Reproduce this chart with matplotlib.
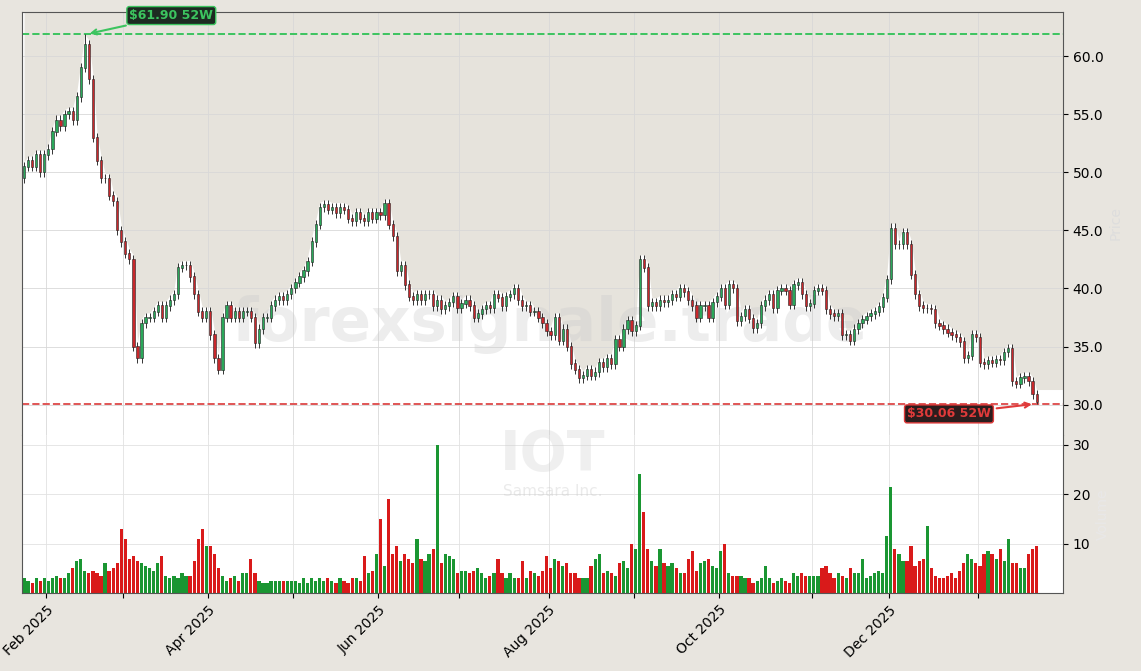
import matplotlib
matplotlib.use("Agg")
import matplotlib.pyplot as plt
import numpy as np
import pandas as pd

# daily closes, first open given separately
first_open = 49.5
closes = [
    50.5, 51, 50.5, 51.5, 50, 51.5, 52, 53.5, 54.5, 54,
    55, 55.2, 54.5, 56.5, 59, 61, 58, 53, 51, 49.5,
    49.5, 48, 47.5, 45, 44, 43, 42.5, 35, 34, 37,
    37.5, 37.5, 38, 38.5, 37.5, 38.5, 39, 39.5, 41.8, 42,
    42, 41, 39.5, 38, 37.5, 38, 36, 34, 33, 37.5,
    38.5, 37.5, 38, 37.5, 38, 38, 37.5, 35.3, 36.5, 37.5,
    37.5, 38.5, 39, 39.3, 39, 39.5, 40, 40.5, 41, 41.5,
    42.3, 44, 45.5, 47, 47.2, 46.8, 47, 46.5, 47, 46.8,
    46, 45.8, 46.5, 46, 45.8, 46.5, 46, 46.5, 46.3, 47.3,
    45.5, 44.5, 41.5, 42, 40.3, 39.3, 39, 39.5, 39, 39.5,
    39.5, 38.5, 39, 38.2, 38.5, 38.8, 39.3, 38.3, 38.7, 39,
    38.5, 37.5, 37.8, 38.2, 38.5, 38.3, 39.5, 39.2, 38.5, 39.3,
    39.5, 40, 39, 38.5, 38.5, 38, 38, 37.5, 37, 36.3,
    36, 37.5, 35.5, 36.5, 35, 33.5, 33, 32.3, 32.5, 33,
    32.5, 32.8, 33.6, 33.2, 34, 33.5, 35.6, 35, 36.5, 37.2,
    36.3, 36.8, 42.5, 41.8, 38.5, 38.8, 38.5, 39, 38.8, 39,
    39.5, 39.3, 40, 39.7, 39, 38.5, 37.5, 38.5, 38.5, 37.5,
    38.8, 39.3, 40, 38.6, 40.3, 40, 37.2, 37.6, 38.2, 37.4,
    36.6, 37, 38.5, 39, 39.5, 38.3, 39.8, 40, 39.8, 38.6,
    40.3, 40.5, 39.5, 38.5, 38.7, 39.8, 40, 39.8, 38.2, 37.8,
    37.6, 37.8, 36, 36, 35.5, 36.5, 37, 37.3, 37.6, 37.8,
    38, 38.4, 39.2, 40.8, 45.2, 43.8, 43.8, 44.8, 43.8, 41.2,
    39.5, 38.5, 38.3, 38.3, 38.2, 37, 36.8, 36.5, 36.2, 36,
    35.8, 35.4, 34, 34.2, 36, 35.8, 33.6, 33.5, 33.8, 33.6,
    33.9, 33.8, 34.5, 34.8, 32, 31.8, 32.3, 32.4, 32, 30.9, 30.2,
]
# volume in millions
volumes = [
    3, 2.5, 2, 3, 2.5, 3, 2.5, 3, 3.5, 3,
    3, 4, 5, 6.5, 7, 4.5, 4, 4.5, 4, 3.5,
    6, 4.5, 5, 6, 13, 11, 7, 7.5, 6.5, 6,
    5.5, 5, 4.5, 6, 7.5, 3.5, 3, 3.5, 3, 4,
    3.5, 3.5, 6.5, 11, 13, 9.5, 9.5, 8, 5, 3.5,
    2.5, 3, 3.5, 2.5, 4, 4, 7, 4, 2.5, 2,
    2, 2.5, 2.5, 2.5, 2.5, 2.5, 2.5, 2.5, 2, 3,
    2, 3, 2.5, 3, 2.5, 3, 2.5, 2, 3, 2.5,
    2, 3, 3, 2.5, 7.5, 4, 4.5, 8, 15, 5.5,
    19, 8, 9.5, 6.5, 8, 7, 6, 11, 7, 6.5,
    8, 9, 30, 6, 8, 7.5, 7, 4, 4.5, 4.5,
    4, 4.5, 5, 4, 3, 3.5, 4, 7, 4, 3,
    4, 3, 3, 6.5, 3, 4.5, 4, 3.5, 4.5, 7.5,
    5, 7, 6.5, 5.5, 6, 4, 4, 3, 3, 3,
    5.5, 7, 8, 4, 4.5, 4, 3.5, 6, 6.5, 5,
    10, 9, 24, 16.5, 9, 6.5, 5.5, 9, 6, 5.5,
    6, 5, 4, 4, 7, 8.5, 4.5, 6, 6.5, 7,
    5.5, 5, 8.5, 10, 4, 3.5, 3.5, 3.5, 3, 3,
    2, 2.5, 3, 5.5, 3, 2, 2.5, 3, 2.5, 2,
    4, 3.5, 4, 3.5, 3.5, 3.5, 3.5, 5, 5.5, 4,
    3, 4, 3.5, 3, 5, 4, 4, 7, 3, 3.5,
    4, 4.5, 4, 11.5, 21.5, 9, 8, 6.5, 6.5, 9.5,
    5.5, 6.5, 7, 13.5, 5, 3.5, 3, 3, 3.5, 4,
    3, 4.5, 6, 8, 7, 6, 5.5, 8, 8.5, 8,
    7, 9, 6.5, 11, 6, 6, 5, 5, 8, 9, 9.5,
]
high_52w = 61.90
low_52w = 30.06
market_holidays = ["2025-02-17", "2025-04-18", "2025-05-26", "2025-06-19", "2025-07-04",
                   "2025-09-01", "2025-11-27", "2025-12-25", "2026-01-01", "2026-01-19"]
month_ticks = ["2025-02-01", "2025-03-01", "2025-04-01", "2025-05-01", "2025-06-01", "2025-07-01",
               "2025-08-01", "2025-09-01", "2025-10-01", "2025-11-01", "2025-12-01", "2026-01-01"]
month_labels = ["Feb 2025", "", "Apr 2025", "", "Jun 2025", "", "Aug 2025", "", "Oct 2025", "", "Dec 2025", ""]

n = min(len(closes), len(volumes))
closes = np.array(closes[:n])
volumes = np.array(volumes[:n])
opens = np.concatenate([[first_open], closes[:-1]])
highs = np.maximum(opens, closes) + 0.4
lows = np.minimum(opens, closes) - 0.4
highs[np.argmax(closes)] = high_52w
lows[-1] = low_52w
dates = pd.bdate_range("2025-01-24", periods=n, freq="C", holidays=market_holidays)
x = np.arange(n)
up = closes >= opens

bg = "#e6e3dc"
fig = plt.figure(figsize=(11.41, 6.71), dpi=100, facecolor="#e8e5df")
ax = fig.add_axes([0.0193, 0.352, 0.9123, 0.630])
axv = fig.add_axes([0.0193, 0.116, 0.9123, 0.236], sharex=ax)

ax.set_facecolor("white")
ax.set_ylim(27.4, 63.8)
xf = np.concatenate([x, [n + 7]])
hf = np.concatenate([highs, [highs[-1]]])
ax.fill_between(xf, hf, 63.8, color=bg, zorder=0, lw=0)

ax.vlines(x, lows, highs, color="#333333", lw=0.7, zorder=2)
body_col = np.where(up, "#2aa85a", "#c8282c")
ax.bar(x, np.abs(closes - opens) + 0.05, bottom=np.minimum(opens, closes), width=0.55,
       color=body_col, edgecolor="#222222", lw=0.4, zorder=3)

ax.axhline(high_52w, color="#3cc45f", ls="--", lw=1.4, zorder=1)
ax.axhline(low_52w, color="#e05555", ls="--", lw=1.4, zorder=1)
imax = int(np.argmax(highs))
ax.annotate(f"${high_52w:.2f} 52W", xy=(imax + 0.5, high_52w), xytext=(imax + 11, 63.2),
            color="#3cc45f", fontsize=9, fontweight="bold",
            bbox=dict(boxstyle="round,pad=0.2", fc="#1d2b22", ec="#3cc45f"),
            arrowprops=dict(arrowstyle="->", color="#3cc45f", lw=1.5))
ax.annotate(f"${low_52w:.2f} 52W", xy=(n - 1.5, low_52w), xytext=(n - 33, 28.9),
            color="#e03a3a", fontsize=9, fontweight="bold",
            bbox=dict(boxstyle="round,pad=0.2", fc="#2b1d1d", ec="#e03a3a"),
            arrowprops=dict(arrowstyle="->", color="#e03a3a", lw=1.5))

ax.text(0.507, 0.26, "forexsignale.trade", transform=ax.transAxes, fontsize=44, fontweight="bold",
        color="#cccccc", alpha=0.35, ha="center", va="center", zorder=1)
ax.yaxis.tick_right()
ax.set_yticks([30, 35, 40, 45, 50, 55, 60])
ax.set_yticklabels([f"{v:.1f}" for v in [30, 35, 40, 45, 50, 55, 60]])
ax.yaxis.set_label_position("right")
ax.set_ylabel("Price", color="#dddddd", fontsize=10)
ax.grid(True, color="#d8d8d8", lw=0.6)
ax.tick_params(axis="x", length=0, labelbottom=False)
ax.spines["bottom"].set_visible(False)

axv.set_facecolor("white")
vcol = np.where(up, "#1a9632", "#d91a1a")
axv.bar(x, volumes, width=0.8, color=vcol)
axv.set_ylim(0, 32)
axv.yaxis.tick_right()
axv.set_yticks([10, 20, 30])
axv.yaxis.set_label_position("right")
axv.set_ylabel("Volume", color="#e8e8e8", fontsize=10)
axv.grid(True, color="#e2e2e2", lw=0.6)
axv.spines["top"].set_visible(False)
axv.text(0.51, 0.87, "IOT", transform=axv.transAxes, fontsize=40, fontweight="bold",
         color="#cccccc", alpha=0.3, ha="center", va="center")
axv.text(0.51, 0.64, "Samsara Inc.", transform=axv.transAxes, fontsize=11,
         color="#cccccc", alpha=0.4, ha="center", va="center")

tick_pos = [np.searchsorted(dates, pd.Timestamp(d)) - 0.5 for d in month_ticks]
axv.set_xticks(tick_pos)
axv.set_xticklabels(month_labels, rotation=45, ha="right", rotation_mode="anchor")
axv.set_xlim(-0.5, n - 1 + 6.5)
for a in (ax, axv):
    for s in a.spines.values():
        s.set_color("#555555")
    a.set_axisbelow(True)

fig.savefig("out.png", dpi=100, facecolor=fig.get_facecolor())
